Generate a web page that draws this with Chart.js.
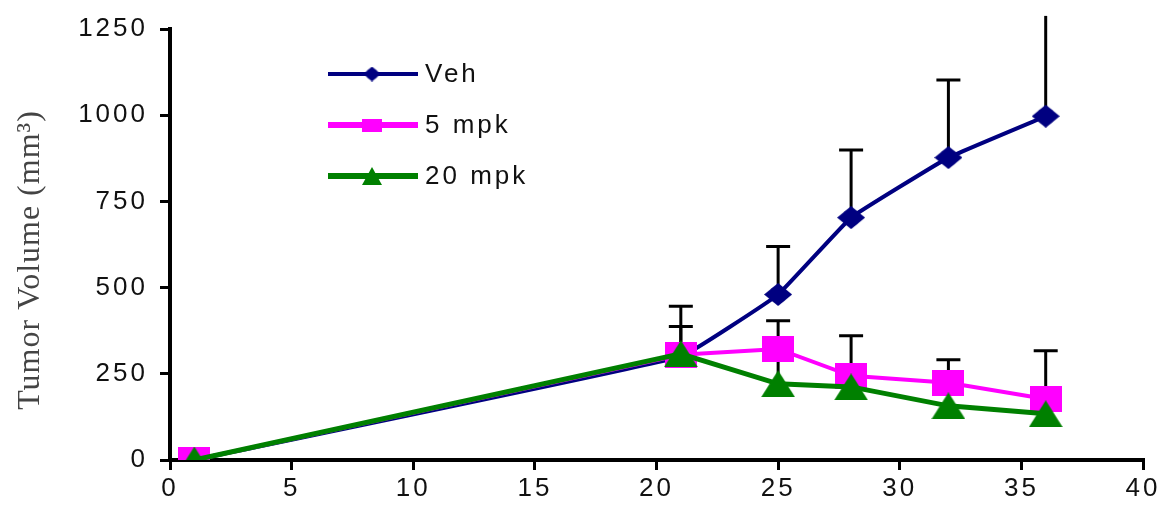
<!DOCTYPE html>
<html>
<head>
<meta charset="utf-8">
<title>Tumor Volume</title>
<script src="https://cdn.jsdelivr.net/npm/chart.js@4.4.0/dist/chart.umd.min.js"></script>
<style>
  html, body { margin: 0; padding: 0; background: #fff; }
</style>
</head>
<body>
<canvas id="stage" width="1165" height="508"></canvas>
<script>
// days of measurement
var days = [1, 21, 25, 28, 32, 36];
var seriesNames = ['Veh', '5 mpk', '20 mpk'];

// mean tumor volume (mm3) and SEM
var vehMean = [0, 300, 480, 703, 877, 997];
var vehSem = [0, 146, 139, 196, 225, 291];
var mpk5Mean = [0, 305, 322, 244, 224, 177];
var mpk5Sem = [0, 82, 82, 116, 67, 140];
var mpk20Mean = [0, 308, 221, 212, 157, 134];
var mpk20Sem = [0, 0, 80, 0, 0, 0];

var xTicks = [0, 5, 10, 15, 20, 25, 30, 35, 40];
var yTicks = [0, 250, 500, 750, 1000, 1250];

var NAVY = '#000080', MAGENTA = '#ff00ff', GREEN = '#008000';
var SANS = '"Liberation Sans", Arial, sans-serif';

// little canvases used as point styles
function marker(w, h, color, shape) {
  var c = document.createElement('canvas');
  c.width = w; c.height = h;
  var g = c.getContext('2d');
  g.fillStyle = color;
  g.beginPath();
  if (shape === 'diamond') {
    g.moveTo(w / 2, 0); g.lineTo(w, h / 2); g.lineTo(w / 2, h); g.lineTo(0, h / 2);
    g.closePath(); g.fill();
    g.beginPath(); g.arc(w / 2, h / 2, Math.min(w, h) * 0.38, 0, Math.PI * 2);
  } else if (shape === 'triangle') {
    g.moveTo(w / 2, 0); g.lineTo(w, h); g.lineTo(0, h);
    g.closePath();
  } else {
    g.rect(0, 0, w, h);
  }
  g.fill();
  return c;
}

function points(means) {
  return days.map(function(d, i) { return { x: d, y: means[i] }; });
}

var semByName = {};
semByName[seriesNames[0]] = vehSem;
semByName[seriesNames[1]] = mpk5Sem;
semByName[seriesNames[2]] = mpk20Sem;

// error bars (upper side only), under the markers
var errorBars = {
  id: 'errorBars',
  beforeDatasetsDraw: function(chart) {
    var ctx = chart.ctx, xs = chart.scales.x, ys = chart.scales.y;
    ctx.save();
    ctx.strokeStyle = '#000';
    ctx.lineWidth = 3;
    chart.data.datasets.forEach(function(ds) {
      var sem = semByName[ds.label];
      ds.data.forEach(function(p, i) {
        if (!sem[i]) return;
        var px = xs.getPixelForValue(p.x);
        var top = p.y + sem[i];
        var y0 = ys.getPixelForValue(p.y);
        var y1 = ys.getPixelForValue(top);
        ctx.beginPath();
        ctx.moveTo(px, y0);
        ctx.lineTo(px, y1);
        if (top <= ys.max) {
          ctx.moveTo(px - 12, y1);
          ctx.lineTo(px + 12, y1);
        }
        ctx.stroke();
      });
    });
    ctx.restore();
  }
};

// legend drawn like the original: line with the marker in the middle
var legendItems = [
  { text: seriesNames[0], color: NAVY, width: 4, mark: marker(17, 15, NAVY, 'diamond') },
  { text: seriesNames[1], color: MAGENTA, width: 6, mark: marker(20, 13, MAGENTA, 'rect') },
  { text: seriesNames[2], color: GREEN, width: 6, mark: marker(20, 18, GREEN, 'triangle') }
];
var lineLegend = {
  id: 'lineLegend',
  afterDatasetsDraw: function(chart) {
    var ctx = chart.ctx;
    ctx.save();
    ctx.font = '26px ' + SANS;
    ctx.letterSpacing = '3px';
    ctx.textBaseline = 'middle';
    ctx.fillStyle = '#111';
    legendItems.forEach(function(it, i) {
      var y = 74 + i * 51;
      ctx.strokeStyle = it.color;
      ctx.lineWidth = it.width;
      ctx.beginPath();
      ctx.moveTo(328, y);
      ctx.lineTo(418, y);
      ctx.stroke();
      ctx.drawImage(it.mark, 372 - it.mark.width / 2, y - it.mark.height / 2);
      ctx.fillText(it.text, 425, y + 1);
    });
    ctx.restore();
  }
};

// rotated axis title, serif like the figure
var yTitle = {
  id: 'yTitle',
  afterDraw: function(chart) {
    var ctx = chart.ctx;
    ctx.save();
    ctx.translate(31, 260);
    ctx.rotate(-Math.PI / 2);
    ctx.font = '32px "Liberation Serif", "Times New Roman", serif';
    ctx.letterSpacing = '1px';
    ctx.fillStyle = '#444';
    ctx.textAlign = 'center';
    ctx.textBaseline = 'middle';
    ctx.fillText('Tumor Volume (mm\u00b3)', 0, 0);
    ctx.restore();
  }
};

// wide tick lettering
var wideText = {
  id: 'wideText',
  beforeUpdate: function(chart) { chart.ctx.letterSpacing = '3px'; },
  beforeDraw: function(chart) { chart.ctx.letterSpacing = '3px'; }
};

function plain(v) { return String(v); }

var canvas = document.getElementById('stage');
var chart = new Chart(canvas, {
  type: 'line',
  data: {
    datasets: [
      {
        label: seriesNames[0],
        data: points(vehMean),
        borderColor: NAVY,
        backgroundColor: NAVY,
        borderWidth: 4,
        tension: 0.08,
        pointStyle: marker(28, 23, NAVY, 'diamond'),
        order: 3
      },
      {
        label: seriesNames[1],
        data: points(mpk5Mean),
        borderColor: MAGENTA,
        backgroundColor: MAGENTA,
        borderWidth: 4,
        pointStyle: marker(32, 26, MAGENTA, 'rect'),
        order: 2
      },
      {
        label: seriesNames[2],
        data: points(mpk20Mean),
        borderColor: GREEN,
        backgroundColor: GREEN,
        borderWidth: 5,
        pointStyle: marker(34, 27, GREEN, 'triangle'),
        order: 1
      }
    ]
  },
  options: {
    responsive: false,
    animation: false,
    devicePixelRatio: 1,
    layout: { padding: { top: 29, right: 22, left: 0, bottom: 0 } },
    plugins: {
      legend: { display: false },
      tooltip: { enabled: false }
    },
    scales: {
      x: {
        type: 'linear',
        min: xTicks[0],
        max: xTicks[xTicks.length - 1],
        afterBuildTicks: function(s) { s.ticks = xTicks.map(function(v) { return { value: v }; }); },
        afterFit: function(s) { s.height = 48; },
        grid: { drawOnChartArea: false, drawTicks: true, tickLength: 10, color: '#000', lineWidth: 3 },
        border: { display: true, color: '#000', width: 4 },
        ticks: { color: '#111', font: { family: SANS, size: 26 }, padding: 3, maxRotation: 0, callback: plain }
      },
      y: {
        min: yTicks[0],
        max: yTicks[yTicks.length - 1],
        afterBuildTicks: function(s) { s.ticks = yTicks.map(function(v) { return { value: v }; }); },
        afterFit: function(s) { s.width = 170; },
        grid: { drawOnChartArea: false, drawTicks: true, tickLength: 10, color: '#000', lineWidth: 3 },
        border: { display: true, color: '#000', width: 4 },
        ticks: { color: '#111', font: { family: SANS, size: 26 }, padding: 12, callback: plain }
      }
    }
  },
  plugins: [wideText, errorBars, lineLegend, yTitle]
});
</script>
</body>
</html>
